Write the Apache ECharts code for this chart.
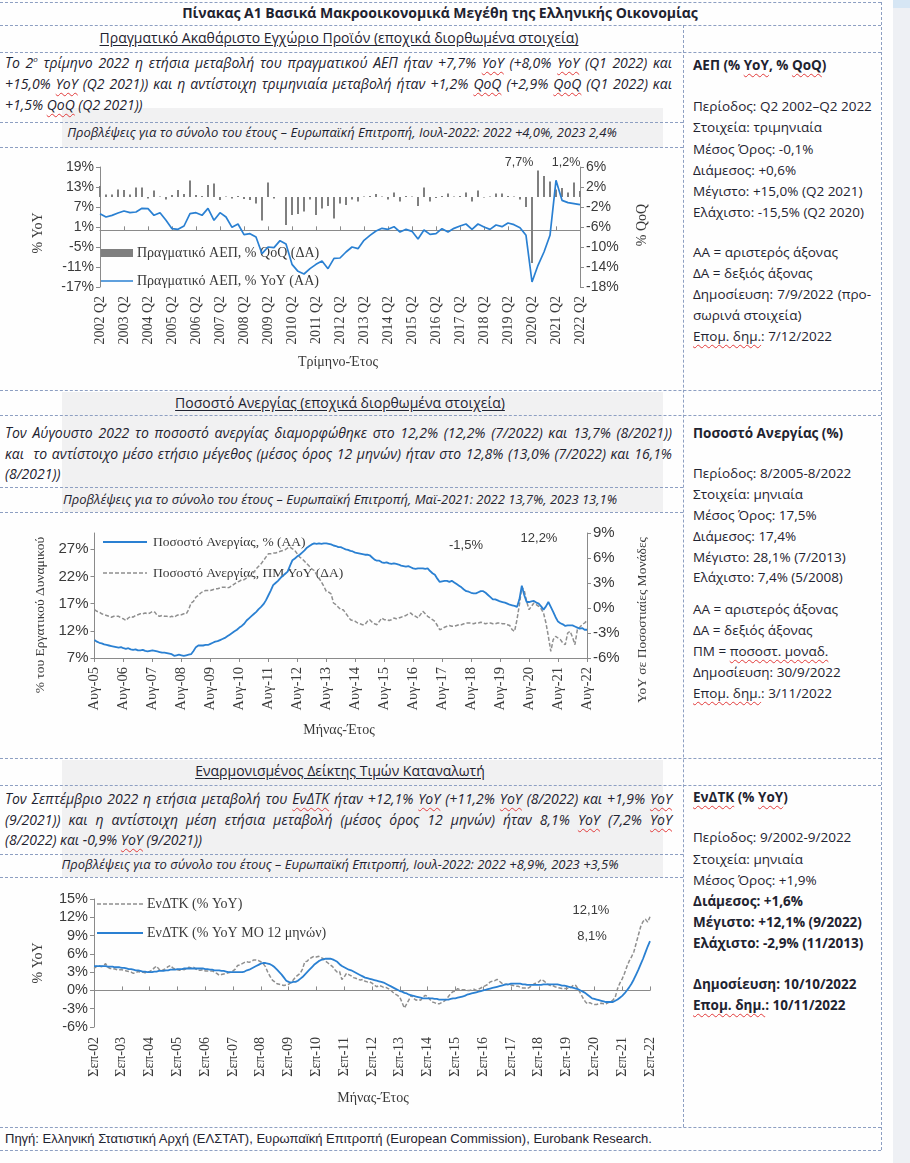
<!DOCTYPE html>
<html lang="el">
<head>
<meta charset="utf-8">
<title>Πίνακας Α1 Βασικά Μακροοικονομικά Μεγέθη της Ελληνικής Οικονομίας</title>
<script src="https://cdn.jsdelivr.net/npm/echarts/dist/echarts.min.js"></script>
<style>
html,body{margin:0;padding:0;background:#ffffff;}
#page{position:relative;width:910px;height:1163px;overflow:hidden;background:#fefefe;font-family:'Open Sans','Noto Sans',sans-serif;color:#1f2330;}
.strip{position:absolute;left:893px;top:0;width:17px;height:1163px;background:#eef0f4;}
.strip2{position:absolute;left:893px;top:0;width:17px;height:8px;background:#d6e6f4;}
.shade{position:absolute;background:#f1f1f2;}
.hl{position:absolute;height:0;border-top:1px dashed #8d9fc2;}
.vl{position:absolute;width:0;border-left:1px dashed #8d9fc2;}
.tx{position:absolute;height:20px;line-height:20px;white-space:nowrap;}
.ctr{text-align:center;}
.title{font-weight:700;font-size:14px;}
.sec{font-size:14px;text-decoration:underline;text-underline-offset:2px;}
.para{position:absolute;left:5px;width:667px;height:20px;line-height:20px;font-style:italic;font-size:14px;text-align:justify;text-align-last:justify;}
.para.last{text-align-last:left;}
.fc{font-style:italic;font-size:13px;}
.rc{left:693px;font-size:13.5px;}
.rcj{left:693px;width:178px;font-size:13.5px;text-align:justify;text-align-last:justify;white-space:normal;}
.b{font-weight:700;}
.sp{text-decoration:underline wavy #e23a3a;text-decoration-thickness:1px;text-underline-offset:3px;}
sup{font-size:8px;line-height:0;vertical-align:6px;}
.chart{position:absolute;left:0;width:682px;}
.foot{font-family:'Liberation Sans',Arial,sans-serif;font-size:13px;}
</style>
</head>
<body>
<div id="page">
  <div class="strip"></div>
  <div class="strip2"></div>
  <div class="shade" style="left:62px;top:108px;width:601px;height:40px;"></div>
  <div class="shade" style="left:62px;top:392px;width:601px;height:120px;"></div>
  <div class="shade" style="left:62px;top:760px;width:601px;height:117px;"></div>

  <!-- dashed table lines -->
  <div class="hl" style="left:0;top:2px;width:881px;"></div>
  <div class="hl" style="left:0;top:25px;width:881px;"></div>
  <div class="hl" style="left:0;top:52px;width:881px;"></div>
  <div class="hl" style="left:0;top:122px;width:683px;"></div>
  <div class="hl" style="left:0;top:147px;width:683px;"></div>
  <div class="hl" style="left:0;top:390px;width:881px;"></div>
  <div class="hl" style="left:0;top:415px;width:881px;"></div>
  <div class="hl" style="left:0;top:487px;width:683px;"></div>
  <div class="hl" style="left:0;top:512px;width:683px;"></div>
  <div class="hl" style="left:0;top:758px;width:881px;"></div>
  <div class="hl" style="left:0;top:785px;width:881px;"></div>
  <div class="hl" style="left:0;top:854px;width:683px;"></div>
  <div class="hl" style="left:0;top:877px;width:683px;"></div>
  <div class="hl" style="left:0;top:1127px;width:881px;"></div>
  <div class="hl" style="left:0;top:1150px;width:881px;"></div>
  <div class="vl" style="left:683px;top:25px;height:1102px;"></div>
  <div class="vl" style="left:881px;top:2px;height:1148px;"></div>

  <!-- title -->
  <div class="tx ctr title" style="left:140px;width:600px;top:3px;">Πίνακας Α1 Βασικά Μακροοικονομικά Μεγέθη της Ελληνικής Οικονομίας</div>

  <!-- GDP section -->
  <div class="tx ctr sec" style="left:39px;width:600px;top:28px;">Πραγματικό Ακαθάριστο Εγχώριο Προϊόν (εποχικά διορθωμένα στοιχεία)</div>
  <div class="para" style="top:53px;">Το 2<sup>ο</sup> τρίμηνο 2022 η ετήσια μεταβολή του πραγματικού ΑΕΠ ήταν +7,7% <span class="sp">YoY</span> (+8,0% <span class="sp">YoY</span> (Q1 2022) και</div>
  <div class="para" style="top:74px;">+15,0% <span class="sp">YoY</span> (Q2 2021)) και η αντίστοιχη τριμηνιαία μεταβολή ήταν +1,2% <span class="sp">QoQ</span> (+2,9% <span class="sp">QoQ</span> (Q1 2022) και</div>
  <div class="para last" style="top:95px;">+1,5% <span class="sp">QoQ</span> (Q2 2021))</div>
  <div class="tx ctr fc" style="left:42px;width:600px;top:122px;">Προβλέψεις για το σύνολο του έτους – Ευρωπαϊκή Επιτροπή, Ιουλ-2022: 2022 +4,0%, 2023 2,4%</div>

  <div class="tx rc b" style="top:55px;">ΑΕΠ (% <span class="sp">YoY</span>, % <span class="sp">QoQ</span>)</div>
  <div class="tx rc" style="top:96px;">Περίοδος: Q2 2002–Q2 2022</div>
  <div class="tx rc" style="top:117px;">Στοιχεία: τριμηνιαία</div>
  <div class="tx rc" style="top:139px;">Μέσος Όρος: -0,1%</div>
  <div class="tx rc" style="top:160px;">Διάμεσος: +0,6%</div>
  <div class="tx rc" style="top:181px;">Μέγιστο: +15,0% (Q2 2021)</div>
  <div class="tx rc" style="top:202px;">Ελάχιστο: -15,5% (Q2 2020)</div>
  <div class="tx rc" style="top:242px;">ΑΑ = αριστερός άξονας</div>
  <div class="tx rc" style="top:263px;">ΔΑ = δεξιός άξονας</div>
  <div class="tx rcj" style="top:284px;">Δημοσίευση: 7/9/2022 (προ-</div>
  <div class="tx rc" style="top:305px;">σωρινά στοιχεία)</div>
  <div class="tx rc" style="top:326px;"><span class="sp">Επομ. δημ.</span>: 7/12/2022</div>

  <!-- Unemployment section -->
  <div class="tx ctr sec" style="left:40px;width:600px;top:393px;">Ποσοστό Ανεργίας (εποχικά διορθωμένα στοιχεία)</div>
  <div class="para" style="top:423px;">Τον Αύγουστο 2022 το ποσοστό ανεργίας διαμορφώθηκε στο 12,2% (12,2% (7/2022) και 13,7% (8/2021))</div>
  <div class="para" style="top:444px;">και&nbsp; το αντίστοιχο μέσο ετήσιο μέγεθος (μέσος όρος 12 μηνών) ήταν στο 12,8% (13,0% (7/2022) και 16,1%</div>
  <div class="para last" style="top:464px;">(8/2021))</div>
  <div class="tx ctr fc" style="left:40px;width:600px;top:489px;">Προβλέψεις για το σύνολο του έτους – Ευρωπαϊκή Επιτροπή, Μαϊ-2021: 2022 13,7%, 2023 13,1%</div>

  <div class="tx rc b" style="top:423px;">Ποσοστό Ανεργίας (%)</div>
  <div class="tx rc" style="top:463px;">Περίοδος: 8/2005-8/2022</div>
  <div class="tx rc" style="top:484px;">Στοιχεία: μηνιαία</div>
  <div class="tx rc" style="top:505px;">Μέσος Όρος: 17,5%</div>
  <div class="tx rc" style="top:526px;">Διάμεσος: 17,4%</div>
  <div class="tx rc" style="top:547px;">Μέγιστο: 28,1% (7/2013)</div>
  <div class="tx rc" style="top:567px;">Ελάχιστο: 7,4% (5/2008)</div>
  <div class="tx rc" style="top:599px;">ΑΑ = αριστερός άξονας</div>
  <div class="tx rc" style="top:620px;">ΔΑ = δεξιός άξονας</div>
  <div class="tx rc" style="top:641px;">ΠΜ = <span class="sp">ποσοστ. μοναδ.</span></div>
  <div class="tx rc" style="top:662px;">Δημοσίευση: 30/9/2022</div>
  <div class="tx rc" style="top:683px;"><span class="sp">Επομ. δημ.</span>: 3/11/2022</div>

  <!-- HICP section -->
  <div class="tx ctr sec" style="left:40px;width:600px;top:761px;">Εναρμονισμένος Δείκτης Τιμών Καταναλωτή</div>
  <div class="para" style="top:789px;">Τον Σεπτέμβριο 2022 η ετήσια μεταβολή του <span class="sp">ΕνΔΤΚ</span> ήταν +12,1% <span class="sp">YoY</span> (+11,2% <span class="sp">YoY</span> (8/2022) και +1,9% <span class="sp">YoY</span></div>
  <div class="para" style="top:810px;">(9/2021)) και η αντίστοιχη μέση ετήσια μεταβολή (μέσος όρος 12 μηνών) ήταν 8,1% <span class="sp">YoY</span> (7,2% <span class="sp">YoY</span></div>
  <div class="para last" style="top:830px;">(8/2022) και -0,9% <span class="sp">YoY</span> (9/2021))</div>
  <div class="tx ctr fc" style="left:40px;width:600px;top:854px;">Προβλέψεις για το σύνολο του έτους – Ευρωπαϊκή Επιτροπή, Ιουλ-2022: 2022 +8,9%, 2023 +3,5%</div>

  <div class="tx rc b" style="top:787px;"><span class="sp">ΕνΔΤΚ</span> (% <span class="sp">YoY</span>)</div>
  <div class="tx rc" style="top:827px;">Περίοδος: 9/2002-9/2022</div>
  <div class="tx rc" style="top:849px;">Στοιχεία: μηνιαία</div>
  <div class="tx rc" style="top:870px;">Μέσος Όρος: +1,9%</div>
  <div class="tx rc b" style="top:891px;">Διάμεσος: +1,6%</div>
  <div class="tx rc b" style="top:912px;">Μέγιστο: +12,1% (9/2022)</div>
  <div class="tx rc b" style="top:933px;">Ελάχιστο: -2,9% (11/2013)</div>
  <div class="tx rc b" style="top:974px;">Δημοσίευση: 10/10/2022</div>
  <div class="tx rc b" style="top:995px;"><span class="sp">Επομ. δημ.</span>: 10/11/2022</div>

  <div class="tx foot" style="left:5px;top:1129px;">Πηγή: Ελληνική Στατιστική Αρχή (ΕΛΣΤΑΤ), Ευρωπαϊκή Επιτροπή (European Commission), Eurobank Research.</div>

  <div id="c1" class="chart" style="top:148px;height:240px;"></div>
  <div id="c2" class="chart" style="top:513px;height:245px;"></div>
  <div id="c3" class="chart" style="top:878px;height:248px;"></div>
</div>

<script>
// ---------------- DATA ----------------
// GDP, quarterly 2002Q2 .. 2022Q2
const gdpYoY = [5.0,4.0,4.5,5.2,5.8,5.3,5.5,6.6,6.5,4.5,
  5.3,3.0,0.5,0.3,1.3,5.0,5.3,4.5,6.6,3.0,
  5.3,4.0,0.9,1.9,-1.3,-1.0,-2.0,-7.0,-5.0,-5.2,
  -3.1,-4.1,-10.2,-12.3,-13.1,-11.5,-10.2,-9.2,-11.5,-8.4,
  -8.3,-6.5,-5.0,-5.5,-3.0,-1.5,-0.2,0.6,0.3,1.1,
  -0.5,0.3,-0.3,-2.6,0.1,-1.2,-1.0,0.5,-0.5,0.6,
  1.3,1.9,0.3,1.9,1.0,0.3,1.6,1.1,2.2,1.7,
  0.8,-1.5,-15.5,-10.5,-6.5,-1.5,15.0,9.0,8.3,8.0,7.7];
const gdpQoQ = [2.2,0.5,0.5,1.5,1.4,0.5,1.9,1.9,-0.3,1.3,
  0.1,-0.5,0.4,1.4,0.6,3.3,0.4,0.2,2.4,2.7,
  -0.6,0.1,-0.3,0.2,-0.4,-0.6,-1.3,-4.7,2.9,-0.3,
  0.0,-5.6,-3.6,-3.4,-2.9,-0.5,-3.6,-2.3,-1.8,-4.3,
  -1.3,-1.6,-0.5,-0.9,0.1,0.2,0.6,0.1,-0.5,0.9,
  -0.9,0.2,0.1,-1.8,1.9,-0.9,-0.2,0.2,0.7,0.1,
  0.2,0.9,-0.9,1.3,-0.1,0.1,0.7,0.7,0.2,0.1,
  -0.5,-2.0,-13.2,5.3,4.2,3.1,1.5,1.8,0.9,2.9,1.2];

// Unemployment, monthly 8/2005 .. 8/2022
const unempRate = [10.3,10.0,9.8,9.7,9.5,9.4,9.3,9.2,9.1,9.0,8.9,9.0,
  8.8,8.7,8.8,8.6,8.5,8.6,8.4,8.4,8.5,8.3,8.2,8.3,
  8.4,8.3,8.2,8.1,8.0,8.0,7.9,7.8,7.7,7.4,7.5,7.6,
  7.5,7.4,7.5,7.6,7.7,8.3,9.0,9.3,9.3,9.3,9.4,9.4,
  9.6,9.8,10.0,10.1,10.3,10.5,10.7,11.0,11.3,11.6,11.9,12.2,
  12.6,12.9,13.3,13.9,14.3,14.7,15.1,15.5,16.0,16.4,16.9,17.6,
  18.5,19.4,20.4,20.8,21.2,21.7,22.1,22.5,22.9,24.0,25.0,25.3,
  25.7,26.0,26.4,26.8,27.3,27.6,27.9,28.1,28.0,28.1,28.0,28.1,
  28.1,28.0,27.9,27.7,27.6,27.4,27.4,27.2,27.0,26.9,26.7,26.6,
  26.4,26.3,26.2,26.1,26.0,26.0,25.9,25.5,25.1,24.9,24.9,24.6,
  24.5,24.6,24.4,24.3,24.4,24.3,24.2,24.0,23.9,23.8,23.9,23.7,
  23.5,23.4,23.5,23.5,23.5,23.4,23.5,23.0,22.6,22.3,21.6,21.0,
  21.1,21.2,21.2,21.0,21.2,20.9,20.6,20.3,20.0,19.6,19.3,19.2,
  19.0,18.9,18.9,19.1,19.3,19.3,19.0,18.6,18.2,17.8,17.8,17.6,
  17.4,17.3,17.2,17.0,16.8,16.7,16.6,16.4,17.8,20.3,18.6,17.3,
  17.3,17.4,17.5,17.2,17.0,16.5,15.9,16.5,17.3,16.4,15.5,14.5,
  13.7,13.4,13.2,12.9,13.0,13.0,13.0,12.8,12.6,12.4,12.5,12.2,
  12.2];
const unempYoY = [-0.2,-0.4,-0.5,-0.7,-0.8,-0.9,-1.0,-1.1,-1.0,-1.0,-1.0,-1.2,
  -1.3,-1.5,-1.2,-1.0,-1.1,-0.9,-0.8,-0.7,-0.7,-0.6,-0.7,-0.6,
  -0.4,-0.5,-0.9,-1.0,-0.9,-1.0,-1.0,-1.1,-1.0,-1.1,-0.9,-0.8,
  -0.8,-0.7,-0.7,-0.2,0.6,0.8,1.3,1.5,1.8,2.0,2.1,2.1,
  2.1,2.2,2.3,2.3,2.4,2.5,2.5,2.4,2.5,2.7,2.9,3.1,
  3.2,3.4,3.4,3.6,3.8,3.9,4.3,4.7,5.0,5.3,5.7,6.1,
  6.5,6.5,6.6,6.6,6.7,6.8,6.9,7.0,7.2,7.3,7.1,6.9,
  6.5,6.1,5.9,5.6,5.3,5.0,4.7,4.5,4.0,3.6,3.1,2.6,
  2.0,1.9,1.7,0.6,0.4,0.1,-0.2,-0.2,-0.6,-1.0,-1.4,-1.5,
  -1.6,-1.8,-1.9,-2.0,-2.0,-1.6,-1.4,-1.7,-1.9,-2.0,-1.6,-1.2,
  -1.4,-1.4,-1.5,-1.4,-1.2,-1.3,-1.2,-1.1,-1.0,-0.9,-0.7,-0.6,
  -0.9,-1.0,-1.2,-0.8,-0.4,-0.7,-1.0,-1.2,-1.4,-1.6,-2.1,-2.6,
  -2.5,-2.3,-2.2,-2.1,-2.2,-2.2,-2.1,-2.0,-2.0,-1.9,-1.8,-1.8,
  -1.8,-1.9,-1.8,-1.8,-1.7,-1.8,-1.9,-1.8,-1.8,-1.9,-1.9,-1.8,
  -1.8,-1.9,-1.9,-2.0,-2.1,-2.6,-2.8,-1.4,0.4,2.5,2.1,0.8,
  -0.2,0.2,0.6,0.4,0.2,-0.1,-0.6,-1.8,-3.4,-5.2,-3.8,-3.4,
  -3.6,-3.8,-4.2,-4.4,-3.0,-2.8,-3.5,-4.4,-2.6,-2.3,-2.0,-1.8,
  -1.5];

// HICP, monthly 9/2002 .. 9/2022
const hicpYoY = [3.6,3.9,4.1,3.9,4.0,4.4,3.8,3.6,3.6,3.5,3.4,3.4,
  3.4,3.3,3.2,3.1,3.0,2.8,2.9,3.1,3.0,3.0,2.9,3.0,
  3.1,3.3,3.7,4.0,3.5,3.2,3.4,3.6,3.9,4.1,3.7,3.5,
  3.4,3.3,3.5,3.4,3.6,3.8,3.7,3.8,3.5,3.3,3.3,3.4,
  3.2,3.2,3.2,3.2,3.0,2.8,2.5,2.6,2.7,2.8,2.9,3.0,
  3.2,3.5,4.1,4.2,4.4,4.6,4.7,4.6,4.8,5.0,5.0,4.9,
  4.7,4.4,3.9,3.0,2.3,1.7,1.4,1.1,1.0,0.9,0.8,0.9,
  1.0,1.3,1.7,2.2,2.5,2.8,3.5,4.7,4.8,5.2,5.4,5.6,
  5.5,5.6,5.4,5.2,4.8,4.5,4.2,3.9,3.4,3.0,3.1,1.8,
  2.2,2.8,2.6,2.4,2.1,2.0,1.8,1.7,1.8,1.5,1.4,1.4,
  1.2,0.9,0.6,0.8,0.7,0.5,0.5,0.3,0.1,-0.3,-0.6,-0.8,
  -1.1,-2.0,-2.9,-2.2,-1.5,-0.8,-1.3,-1.6,-1.5,-1.6,-1.1,-0.8,
  -1.0,-1.5,-1.9,-2.0,-2.2,-2.2,-2.0,-1.8,-1.5,-1.0,-0.5,-0.2,
  -0.1,0.3,0.1,0.1,0.1,0.0,0.0,0.1,0.2,0.0,0.2,0.4,
  0.6,0.8,1.0,1.4,1.5,1.6,1.8,1.5,1.2,1.0,1.0,0.9,
  0.9,0.8,0.7,0.7,0.5,0.4,0.4,0.3,0.5,0.8,1.1,1.2,
  1.4,1.8,1.6,1.3,1.0,0.8,0.8,0.6,0.5,0.4,0.3,0.3,
  0.3,0.4,0.5,0.9,0.8,0.2,-0.5,-1.2,-1.8,-2.2,-2.0,-2.2,
  -2.3,-2.3,-2.2,-2.1,-2.2,-2.2,-2.0,-1.9,-1.6,-1.1,0.3,1.2,
  1.9,2.8,3.9,4.8,5.5,6.3,7.7,9.1,10.5,11.3,11.7,11.2,
  12.1];
const hicpAvg12 = [4.0,4.0,4.0,4.0,4.0,4.0,3.9,3.9,3.9,3.8,3.8,3.8,
  3.7,3.7,3.6,3.5,3.5,3.4,3.3,3.3,3.2,3.1,3.1,3.0,
  3.0,3.0,3.1,3.1,3.2,3.2,3.2,3.3,3.3,3.4,3.4,3.4,
  3.5,3.5,3.5,3.6,3.6,3.6,3.6,3.6,3.6,3.6,3.6,3.6,
  3.5,3.5,3.4,3.4,3.3,3.3,3.3,3.2,3.2,3.1,3.0,3.0,
  3.0,3.0,3.0,3.0,3.0,3.1,3.3,3.4,3.6,3.8,4.0,4.2,
  4.4,4.5,4.5,4.4,4.3,4.1,3.8,3.4,3.0,2.6,2.1,1.6,
  1.4,1.3,1.4,1.4,1.6,1.9,2.2,2.6,3.0,3.4,3.8,4.2,
  4.5,4.8,5.0,5.1,5.2,5.2,5.2,5.1,4.9,4.7,4.3,4.0,
  3.8,3.6,3.4,3.3,3.1,2.9,2.7,2.5,2.3,2.1,2.0,1.9,
  1.8,1.7,1.6,1.5,1.4,1.3,1.1,0.9,0.7,0.5,0.3,0.1,
  -0.1,-0.2,-0.4,-0.5,-0.7,-0.8,-0.9,-1.0,-1.1,-1.2,-1.3,-1.3,
  -1.3,-1.3,-1.3,-1.4,-1.4,-1.5,-1.5,-1.5,-1.5,-1.5,-1.4,-1.3,
  -1.3,-1.2,-1.1,-1.0,-0.9,-0.7,-0.6,-0.5,-0.4,-0.3,-0.2,-0.1,
  0.0,0.1,0.2,0.3,0.4,0.5,0.6,0.7,0.8,0.9,1.0,1.0,
  1.1,1.1,1.1,1.1,1.1,1.0,1.0,0.9,0.9,0.9,0.9,0.9,
  0.9,0.9,1.0,1.0,1.0,1.0,1.0,1.0,1.0,0.9,0.8,0.8,
  0.7,0.6,0.5,0.4,0.3,0.2,0.0,-0.2,-0.4,-0.7,-1.0,-1.3,
  -1.4,-1.5,-1.6,-1.7,-1.8,-1.9,-1.9,-1.9,-1.9,-1.7,-1.5,-1.2,
  -0.9,-0.5,0.0,0.5,1.1,1.8,2.6,3.4,4.3,5.2,6.2,7.2,
  8.1];

// Categories / tick labels
const grMonths = ['Ιαν','Φεβ','Μαρ','Απρ','Μαϊ','Ιουν','Ιουλ','Αυγ','Σεπ','Οκτ','Νοε','Δεκ'];
const gdpCats = [];
for (let i = 0; i < gdpYoY.length; i++) { const q = 1 + i; gdpCats.push((2002 + Math.floor(q / 4)) + ' Q' + (q % 4 + 1)); }
function monthCats(y0, m0, n) { const out = []; for (let i = 0; i < n; i++) { const t = m0 + i; const y = y0 + Math.floor(t / 12); out.push(grMonths[t % 12] + '-' + String(y % 100).padStart(2, '0')); } return out; }
const unempCats = monthCats(2005, 7, unempRate.length);
const hicpCats = monthCats(2002, 8, hicpYoY.length);

const gdpNames = ['Πραγματικό ΑΕΠ, % QoQ (ΔΑ)', 'Πραγματικό ΑΕΠ, % YoY (ΑΑ)'];
const unempNames = ['Ποσοστό Ανεργίας, % (ΑΑ)', 'Ποσοστό Ανεργίας, ΠΜ YoY (ΔΑ)'];
const hicpNames = ['ΕνΔΤΚ (% YoY)', 'ΕνΔΤΚ (% YoY ΜΟ 12 μηνών)'];

// ---------------- STYLE ----------------
const BLUE = '#2a80d2';
const GREYBAR = '#7f7f7f';
const GREYDASH = '#8f8f8f';
const AX = '#8a8a8a';
const TXT = '#3a3a3a';
const SERIF = '"Liberation Serif","Times New Roman",serif';
const SANS = '"Liberation Sans",Arial,sans-serif';
const UP = Math.PI / 2; // text reading bottom-to-top

function txt(x, y, s, size, fam, rot, align) {
  return { type: 'text', x: x, y: y, rotation: rot || 0, silent: true,
    style: { text: s, fill: TXT, font: size + 'px ' + fam, align: align || 'center', textAlign: align || 'center', verticalAlign: 'middle', textVerticalAlign: 'middle' } };
}
function seg(x1, x2, y, color, w, dash) {
  return { type: 'line', silent: true, shape: { x1: x1, y1: y, x2: x2, y2: y }, style: { stroke: color, lineWidth: w, lineDash: dash || null } };
}
function valAxis(o) {
  return Object.assign({ type: 'value', splitLine: { show: false },
    axisLine: { show: true, lineStyle: { color: AX } },
    axisTick: { show: true, length: 4, lineStyle: { color: AX } },
    axisLabel: { formatter: '{value}%', fontFamily: SANS, fontSize: 14, color: TXT, margin: 6 } }, o);
}

// ---------------- CHART 1: GDP ----------------
const c1 = echarts.init(document.getElementById('c1'), null, { renderer: 'canvas' });
c1.setOption({
  animation: false,
  grid: { left: 100, top: 19, width: 480, height: 120 },
  xAxis: [
    { type: 'category', data: gdpCats, boundaryGap: false, axisLine: { show: false, onZero: false }, axisTick: { show: false },
      axisLabel: { interval: 3, rotate: 90, margin: 9, fontFamily: SERIF, fontSize: 14, color: TXT } },
    { type: 'category', data: gdpCats, boundaryGap: false,
      axisLine: { show: true, onZero: true, onZeroAxisIndex: 0, lineStyle: { color: AX } },
      axisTick: { show: true, interval: 3, length: 4, lineStyle: { color: AX } }, axisLabel: { show: false } }
  ],
  yAxis: [
    valAxis({ min: -17, max: 19, interval: 6 }),
    valAxis({ min: -18, max: 6, interval: 4, position: 'right' })
  ],
  series: [
    { name: gdpNames[0], type: 'bar', data: gdpQoQ, xAxisIndex: 0, yAxisIndex: 1, barWidth: 2, itemStyle: { color: GREYBAR }, z: 2 },
    { name: gdpNames[1], type: 'line', data: gdpYoY, xAxisIndex: 0, yAxisIndex: 0, symbol: 'none', lineStyle: { color: BLUE, width: 1.7 }, z: 3 }
  ],
  graphic: [
    txt(38, 85, '% YoY', 14, SERIF, UP),
    txt(642, 77, '% QoQ', 14, SERIF, UP),
    txt(338, 214, 'Τρίμηνο-Έτος', 14, SERIF),
    txt(519, 15, '7,7%', 12.5, SANS),
    txt(566, 15, '1,2%', 12.5, SANS),
    { type: 'rect', silent: true, shape: { x: 100, y: 101, width: 33, height: 8 }, style: { fill: GREYBAR } },
    txt(137, 105, gdpNames[0], 14, SERIF, 0, 'left'),
    seg(100, 133, 133, BLUE, 1.7),
    txt(137, 133, gdpNames[1], 14, SERIF, 0, 'left')
  ]
});

// ---------------- CHART 2: Unemployment ----------------
const c2 = echarts.init(document.getElementById('c2'), null, { renderer: 'canvas' });
c2.setOption({
  animation: false,
  grid: { left: 94.5, top: 20, width: 492.5, height: 125 },
  xAxis: [
    { type: 'category', data: unempCats, boundaryGap: false,
      axisLine: { show: true, onZero: false, lineStyle: { color: AX } },
      axisTick: { show: true, interval: 11, length: 4, lineStyle: { color: AX } },
      axisLabel: { interval: 11, rotate: 90, margin: 9, fontFamily: SERIF, fontSize: 14.5, color: TXT } }
  ],
  yAxis: [
    valAxis({ min: 7, max: 30, interval: 5, axisLabel: { formatter: '{value}%', fontFamily: SANS, fontSize: 15, color: TXT, margin: 6, showMaxLabel: false } }),
    valAxis({ min: -6, max: 9, interval: 3, position: 'right', axisLabel: { formatter: '{value}%', fontFamily: SANS, fontSize: 15, color: TXT, margin: 6 } })
  ],
  series: [
    { name: unempNames[1], type: 'line', data: unempYoY, yAxisIndex: 1, symbol: 'none', lineStyle: { color: GREYDASH, width: 1.5, type: [4, 2] }, z: 2 },
    { name: unempNames[0], type: 'line', data: unempRate, yAxisIndex: 0, symbol: 'none', lineStyle: { color: BLUE, width: 1.8 }, z: 3 }
  ],
  graphic: [
    txt(40, 102, '% του Εργατικού Δυναμικού', 13.5, SERIF, UP),
    txt(642, 107, 'YoY σε Ποσοστιαίες Μονάδες', 13.5, SERIF, UP),
    txt(339, 217, 'Μήνας-Έτος', 14, SERIF),
    txt(466, 32, '-1,5%', 13, SANS),
    txt(539, 25, '12,2%', 13, SANS),
    seg(103, 147, 29, BLUE, 1.8),
    txt(153, 29, unempNames[0], 13.5, SERIF, 0, 'left'),
    seg(103, 147, 60, GREYDASH, 1.5, [4, 2]),
    txt(153, 60, unempNames[1], 13.5, SERIF, 0, 'left')
  ]
});

// ---------------- CHART 3: HICP ----------------
const c3 = echarts.init(document.getElementById('c3'), null, { renderer: 'canvas' });
c3.setOption({
  animation: false,
  grid: { left: 94, top: 21, width: 556, height: 128 },
  xAxis: [
    { type: 'category', data: hicpCats, boundaryGap: false, axisLine: { show: false, onZero: false }, axisTick: { show: false },
      axisLabel: { interval: 11, rotate: 90, margin: 10, fontFamily: SERIF, fontSize: 14, color: TXT } },
    { type: 'category', data: hicpCats, boundaryGap: false,
      axisLine: { show: true, onZero: true, onZeroAxisIndex: 0, lineStyle: { color: AX } },
      axisTick: { show: true, interval: 11, length: 4, lineStyle: { color: AX } }, axisLabel: { show: false } }
  ],
  yAxis: [
    valAxis({ min: -6, max: 15, interval: 3, axisLabel: { formatter: '{value}%', fontFamily: SANS, fontSize: 14.5, color: TXT, margin: 6 } })
  ],
  series: [
    { name: hicpNames[0], type: 'line', data: hicpYoY, xAxisIndex: 0, symbol: 'none', lineStyle: { color: GREYDASH, width: 1.5, type: [4, 2] }, z: 2 },
    { name: hicpNames[1], type: 'line', data: hicpAvg12, xAxisIndex: 0, symbol: 'none', lineStyle: { color: BLUE, width: 1.8 }, z: 3 }
  ],
  graphic: [
    txt(38, 85, '% YoY', 14, SERIF, UP),
    txt(373, 220, 'Μήνας-Έτος', 14, SERIF),
    txt(591, 32, '12,1%', 13, SANS),
    txt(592, 58, '8,1%', 13, SANS),
    seg(97, 143, 26, GREYDASH, 1.5, [4, 2]),
    txt(147, 26, hicpNames[0], 14, SERIF, 0, 'left'),
    seg(97, 143, 55, BLUE, 1.8),
    txt(147, 55, hicpNames[1], 14, SERIF, 0, 'left')
  ]
});

// keep justified lines on one line each
document.querySelectorAll('.para, .rcj').forEach(function (el) {
  let fs = parseFloat(getComputedStyle(el).fontSize);
  while (el.scrollHeight > 24 && fs > 9) { fs -= 0.25; el.style.fontSize = fs + 'px'; }
});
</script>
</body>
</html>
